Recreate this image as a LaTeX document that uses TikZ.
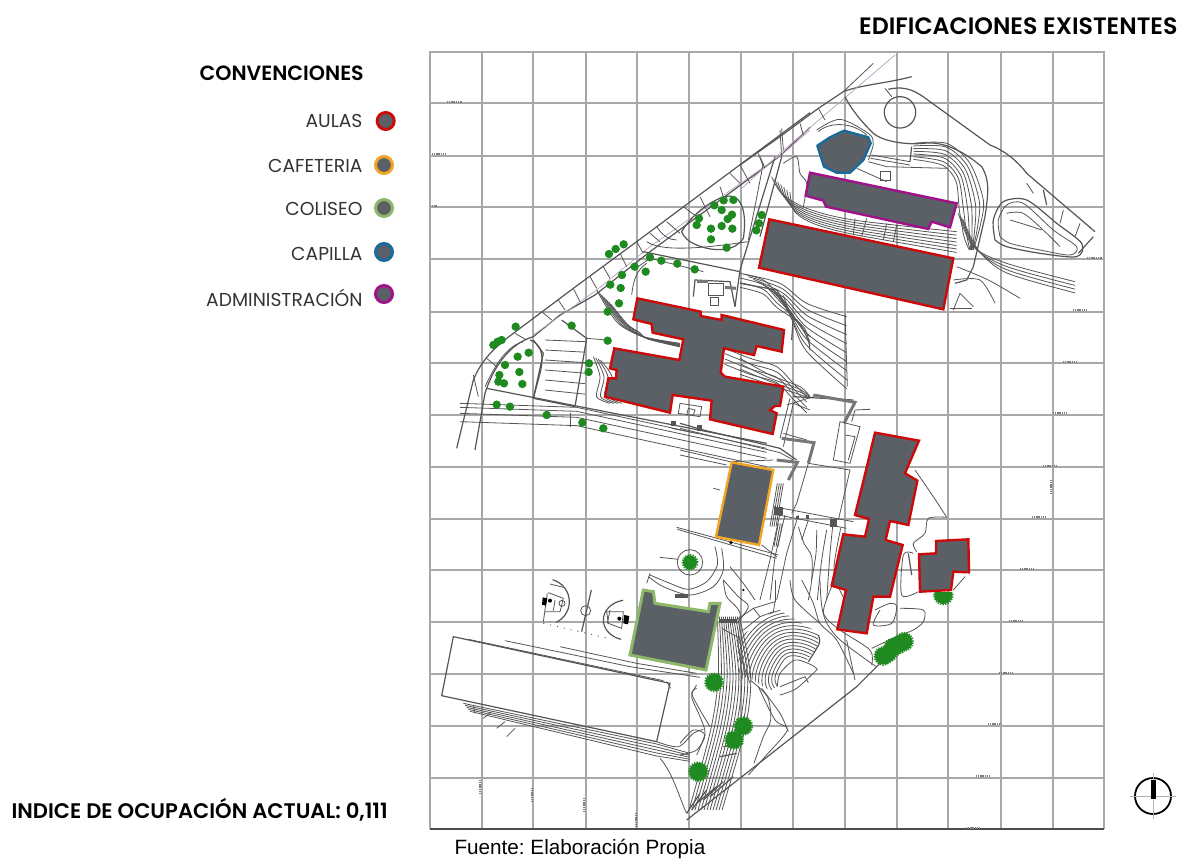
\documentclass[tikz,border=0pt]{standalone}
\usepackage{fontspec}
\setmainfont{Poppins}
\newfontfamily\pbold{Poppins SemiBold}
\newfontfamily\arialf{Liberation Sans}
\definecolor{bgray}{HTML}{5A6066}
\definecolor{gridc}{HTML}{A8A8A8}
\definecolor{linec}{HTML}{555555}
\definecolor{redb}{HTML}{CC0A0A}
\definecolor{orangeb}{HTML}{F2A524}
\definecolor{greenb}{HTML}{8DB86A}
\definecolor{blueb}{HTML}{1A6A9A}
\definecolor{purpb}{HTML}{A0128A}
\definecolor{treeg}{HTML}{1F8A1F}
\definecolor{mauve}{HTML}{B9A0C0}
\tikzset{
  za/.style={shift={(430,50)},x=0.33333pt,y=-0.33333pt},
  zb/.style={shift={(740,50)},x=0.33333pt,y=-0.33333pt},
  zc/.style={shift={(430,440)},x=0.33333pt,y=-0.33333pt},
  zd/.style={shift={(720,440)},x=0.33333pt,y=-0.33333pt},
  ze/.style={shift={(680,380)},x=0.33333pt,y=-0.33333pt},
  zf/.style={shift={(680,580)},x=0.33333pt,y=-0.33333pt},
  zg/.style={shift={(500,570)},x=0.33333pt,y=-0.33333pt},
  gridl/.style={draw=gridc,line width=1.5pt},
  ln/.style={draw=linec,line width=0.8pt},
  lnb/.style={draw=linec,line width=1.2pt},
  lnh/.style={draw=linec!80,line width=3pt},
  tiny/.style={draw=gray,line width=1.2pt,dash pattern=on 1.2pt off 0.6pt},
  bld/.style={fill=bgray,line width=2.4pt,line join=miter},
  legdot/.style={circle,fill=bgray,line width=3pt,minimum size=17pt,inner sep=0pt},
  legt/.style={anchor=east,font=\fontsize{18.7}{18.7}\selectfont,text=black!80},
}
\begin{document}
\frenchspacing
\begin{tikzpicture}[x=1pt,y=-1pt]
\useasboundingbox (0,0) rectangle (1196,862);
% grid
\foreach \gx in {482,533,586,637,689,741,793,845,897,948,1001,1053}
  \draw[gridl] (\gx,52)--(\gx,829);
\foreach \gy in {103,156,207,259,312,363,415,467,519,570,622,674,726,778}
  \draw[gridl] (430,\gy)--(1104,\gy);
\draw[draw=gridc,line width=1.6pt] (430,829)--(430,52)--(1104,52)--(1104,829);
\draw[draw=black!70,line width=1.4pt] (430,829)--(1104,829);
% tiny marks
\foreach \ax/\ay/\bx in {447/102/462,432/154/445,430/206/437,1087/258/1102,1073/310/1087,1063/362/1077,1053/413/1067,1043/466/1057,1032/517/1045,1020/569/1033,1009/621/1023,999/673/1012,988/724/1002,976/776/989,966/828/979}
  \draw[tiny] (\ax,\ay)--(\bx,\ay);
\foreach \ax/\ay/\by in {480/780/793,532/788/802,584/798/812,636/813/827,1051/480/493}
  \draw[tiny] (\ax,\ay)--(\ax,\by);
% ---------- upper left linework
\begin{scope}[za]
\draw[lnb] (1140,188)--(620,575)--(430,715)--(250,850)..controls(190,895)and(155,930)..(130,990)--(80,1195);
\draw[lnb] (1140,232)--(1050,318)--(660,605)--(495,735)--(390,795)--(310,860)..controls(240,880)and(190,950)..(165,1030)--(135,1200);
\draw[draw=mauve,line width=0.7pt] (1140,240)--(1060,310)--(660,590)--(500,720)--(310,855);
\foreach \ax/\ay/\bx/\by in {1050/240/1055/320,985/310/1000/350,930/345/960/400,870/410/880/440,810/440/840/500,710/515/750/550,620/575/640/610,520/650/540/685,430/715/450/755,335/785/365/810,255/850/290/870,170/925/200/950,130/975/145/1040,570/610/590/650,480/680/500/715,385/750/405/780,660/550/690/575,760/470/800/500,900/370/930/400}
  \draw[ln] (\ax,\ay)--(\bx,\by);
\draw[lnb] (755,545)..controls(780,500)and(850,440)..(900,438)..controls(940,440)and(950,500)..(940,565)..controls(920,600)and(860,610)..(800,585)..controls(775,575)and(760,560)..(755,545)--cycle;
\draw[lnb] (1035,320)--(930,660)--(915,770);
\draw[ln] (1000,340)--(955,570);
\draw[lnb] (640,605)--(930,665); \draw[ln] (610,660)--(660,625)--(820,665);
\draw[ln] (605,735)..controls(610,690)and(620,660)..(650,640);
\draw[ln] (650,575)..controls(700,610)and(850,590)..(955,575);
\draw[ln] (680,530)..controls(700,560)and(720,570)..(740,570);
% plaza
\draw[lnb] (790,740)--(795,690)--(900,695)--(915,770);
\draw[lnh] (800,695)--(835,695); \draw[lnh] (885,712)--(918,715);
\draw[ln] (840,765) rectangle (865,742); \draw[ln] (835,700)--(880,700)--(880,735)--(835,735)--cycle;
% contours left of X
\foreach \d in {0,12,24,36,48,60,72} {
  \draw[ln] plot[smooth] coordinates {({500+\d*0.6},{720+\d*0.6}) ({535+\d*0.8},{780+\d*0.6}) ({570+\d*0.8},{825+\d*0.3}) ({640+\d*.2},{860+\d*.1}) ({750},{880+\d*.15})};
}
\foreach \d in {0,12,24,36} {
  \draw[ln] plot[smooth] coordinates {({490+\d*.6},{920+\d*.3}) ({510+\d},{980}) ({500+\d},1040) ({540+\d},{1060})};
}
% hatched parcel
\draw[lnb] (395,810)--(470,865)--(435,1070)--(310,1045)--(340,910)--(310,870);
\foreach \d in {0,30,60,90,120,150} \draw[ln] (345,{870+\d})--(465,{875+\d*1.05});
\draw[lnb] (300,870)..controls(330,880)and(345,910)..(330,970)--(310,1045);
\draw[ln] (280,875)..controls(220,890)and(185,970)..(165,1010);
\draw[ln] (470,865)--(530,870);
% lower road
\foreach \d in {0,12,30,55} \draw[ln] (90,{1060+\d})--(440,{1072+\d})--(1010,{1195+\d});
\draw[lnb] (170,1015)--(1010,1180);
\draw[ln] (420,1090)--(420,1130);
% behind south of X
\draw[ln] (745,1090)--(750,1060)--(815,1070)--(810,1100)--cycle;
\draw[ln] (770,1095)--(775,1075)--(795,1080)--(790,1095)--cycle;
\fill[linec] (722,1112) rectangle (738,1128); \fill[linec] (800,1125) rectangle (815,1142);
\draw[ln] (725,1135)--(800,1150);
% right of X road
\foreach \d in {0,14,28,42} \draw[ln] plot[smooth] coordinates {(930,{670+\d}) (1000,{690+\d}) (1040,{730+\d}) ({1080+\d},{790+\d}) ({1140},{860+\d})};
\foreach \d in {0,16,32,48} \draw[ln] plot[smooth] coordinates {(885,{895+\d}) (960,{925+\d}) (1040,{950+\d}) (1090,{1000+\d}) (1130,{1040+\d})};
\draw[ln] (1060,1190)--(1090,1060)--(1140,1080);
\draw[ln] (1130,1170)--(1060,1150);
\end{scope}
% ---------- upper right linework
\begin{scope}[zb]
\draw[lnb] (0,345)--(120,260)--(235,175)--(310,125)..controls(360,105)and(440,100)..(515,80);
\draw[ln] (310,125)--(400,40);
\draw[draw=mauve,line width=0.7pt] (0,420)--(120,310)--(260,190)--(465,15);
\draw[lnb] (445,118)..controls(500,105)and(530,125)..(570,155)--(750,285)..controls(790,300)and(830,330)..(860,370)--(1065,545);
\draw[lnb] (315,140)..controls(340,190)and(380,230)..(400,250)..controls(430,275)and(500,285)..(550,280)..controls(620,270)and(690,320)..(725,350)..controls(750,390)and(745,430)..(735,500)--(700,650)--(680,690)--(645,700);
\draw[lnb] (125,320)--(60,560);
\draw[ln] (125,235)--(130,300); \draw[ln] (180,220)--(190,255); \draw[ln] (235,175)--(255,210); \draw[ln] (60,320)--(75,355);
\draw[lnb] (910,420)--(920,465);\draw[ln] (970,480)--(960,520);\draw[ln] (1020,520)--(1005,560); \draw[ln] (860,400)--(880,430);
\draw[lnb] (480,187) circle[radius=15.7pt];
\draw[ln] plot[smooth] coordinates {(230,240) (300,208) (385,250) (400,280) (385,330)};
\draw[ln] (235,245)..controls(260,220)and(330,210)..(380,255);
\draw[ln] (435,115)--(455,140);
\draw[ln] (420,365) rectangle (452,392);
\draw[ln] (395,315)--(510,335);\draw[ln] (392,325)--(510,345);\draw[ln] (385,335)--(440,350)--(620,355);
\draw[lnb] (510,335)--(515,290);
\draw[ln] (350,355)--(440,395);
% contour stack right of purple building
\foreach \d in {0,1,2,3,4,5,6} {
 \draw[ln] plot[smooth] coordinates {(520,{280+\d*8}) ({620-\d*2},{280+\d*11}) ({690-\d*7},{340+\d*9}) ({730-\d*12},{450+\d*5}) ({720-\d*8},{530+\d*5}) ({700-\d*2},600)};
}
\foreach \d in {0,16,32,48} \draw[ln] plot[smooth] coordinates {({655+\d*.3},{490+\d*.4}) ({700+\d*.3},{590+\d*.2}) ({800},{640+\d*.6}) ({1005},{695+\d*.7})};
\draw[ln] plot[smooth] coordinates {(650,650) (745,690) (840,745)};
\draw[ln] plot[smooth] coordinates {(640,690) (720,690) (765,760)};
\draw[ln] (660,730)--(700,770);
\draw[lnb] (630,775)--(695,775);\draw[ln] (660,730)--(640,780);
% right lobe
\draw[lnb] plot[smooth] coordinates {(765,570) (760,510) (790,455) (860,450) (950,520) (1025,580) (1010,620) (900,610) (800,590) (765,570)};
\draw[ln] plot[smooth] coordinates {(780,560) (775,510) (800,465) (850,460) (940,540) (1010,590) (990,615) (900,600) (810,580) (780,560)};
\draw[ln] plot[smooth] coordinates {(800,490) (850,490) (920,550) (960,590)};
\draw[ln] plot[smooth] coordinates {(810,510) (860,525) (905,540)};
\draw[lnb] (1060,560)--(1015,610);
% contours left of purple building
\foreach \d in {0,13,26,39,52,65,78} {
 \draw[ln] plot[smooth] coordinates {({95+\d*.7},{380+\d*.6}) ({125+\d*.5},{430+\d*.7}) ({200+\d*.3},{475+\d*.6}) ({340},{510+\d*.55}) ({650},{545+\d*.8})};
}
\draw[ln] (345,505)--(340,555);\draw[ln] (380,505)--(365,560);\draw[ln] (440,520)--(430,570);\draw[ln] (470,525)--(460,575);
\draw[ln] plot[smooth] coordinates {(130,340) (170,320) (180,370) (200,400) (190,470)};
% contours below big building
\foreach \d in {0,1,2,3,4,5,6,7,8} {
 \draw[ln] plot[smooth] coordinates {({10+\d*15},{672+\d*8}) ({120+\d*5},{700+\d*15}) ({200},{760+\d*18}) ({320},{800+\d*27})};
}
\draw[lnb] (0,700)--(110,720)--(160,800)--(155,870);
\draw[ln] (315,790)--(322,1010);
\foreach \d in {0,16,32,48} \draw[ln] plot[smooth] coordinates {(0,{925+\d}) (90,{975+\d*.6}) (180,{1010+\d*.5}) (210,{1040+\d*.1})};
\draw[lnb] (160,1040)--(340,1050);
\end{scope}
% ---------- middle
\begin{scope}[ze]
\draw[lnb] (0,130)--(70,150)--(300,205)--(350,240);
\draw[ln] (0,145)--(300,218)--(340,240);
\draw[ln] (0,210)--(150,245)--(280,240);
\draw[ln] (0,225)--(140,255);
\draw[lnh] (290,240)--(352,247)--(325,300);
\draw[lnh] (305,175)--(402,188)--(385,250);
\draw[lnh] (400,45)--(525,67)--(492,130);
\draw[ln] (330,55)--(300,175);
\draw[ln] (320,75)--(400,50);
\draw[ln] (385,250)--(510,270)--(475,420);
\draw[ln] (385,250)--(350,370)--(335,400);
\draw[ln] (480,125)--(540,140)--(510,250)--(460,240)--cycle;
\draw[ln] (495,165)--(525,170)--(505,240);
\draw[ln] (525,90)--(570,88);\draw[ln] (525,90)--(515,125);
\draw[ln] (280,380)--(520,425); \draw[ln] (280,402)--(500,445);
\fill[linec] (282,382) rectangle (308,405); \fill[linec] (450,418) rectangle (470,440);\fill[linec] (348,408) rectangle (358,416);\fill[linec] (378,404) rectangle (388,418);
\draw[ln] (300,400)--(270,540)--(240,660); \draw[ln] (315,405)--(285,530)--(270,660);
\draw[ln] (355,405)--(320,520)--(290,660);
\draw[ln] (385,420)--(365,480);
\foreach \d in {0,6,12,18} \draw[ln] ({292+\d},310)--({270+\d},440);
\foreach \d in {0,6,12} \draw[ln] ({295+\d},430)--({282+\d},500);
\draw[ln] plot[smooth] coordinates {(355,440) (372,490) (395,530) (395,600) (385,660)};
\draw[ln] plot[smooth] coordinates {(410,450) (408,520) (395,600)};
\draw[ln] plot[smooth] coordinates {(440,450) (425,540) (412,660)};
\draw[ln] plot[smooth] coordinates {(458,440) (450,520) (440,660)};
\draw[ln] plot[smooth] coordinates {(482,445) (462,560) (475,620) (495,660)};
\draw[ln] (245,495)--(290,530);
\end{scope}
\begin{scope}[zc]
% bottom-left pitch
\draw[lnb] (70,590)--(720,730)--(680,905)--(35,767)--cycle;
\draw[ln] (710,725)--(722,745);
\draw[ln] (115,598)--(700,722);
\draw[ln] (225,602)--(600,680)--(810,712);
\draw[ln] (390,620)--(620,670)--(800,700);
\foreach \d in {0,10,20,30,40} \draw[ln] ({100+\d*.5},{790+\d*.6})--(680,{912+\d*.9})--(780,{940+\d*.6});
\draw[ln] (130,795)--(135,820);\draw[ln] (160,835)--(185,815);\draw[ln] (200,865)--(225,845);\draw[ln] (230,890)--(255,865);
\draw[ln] (690,955)..controls(730,1000)and(750,1080)..(770,1120);
\draw[ln] plot[smooth] coordinates {(680,905) (745,920) (790,880) (820,868)};
\draw[ln] plot[smooth] coordinates {(800,735) (785,770) (810,830) (825,880) (800,945)};
% cafeteria lines and circle
\draw[ln] (740,262)--(1045,345); \draw[ln] (742,268)--(1040,355);
\fill[black] (903,308) circle[radius=1.8pt];
\draw[ln] (850,145)--(870,150);
\draw[ln] (780,367) circle[radius=12.7pt];
\draw[ln] (690,352)--(745,358);
\draw[ln] plot[smooth] coordinates {(855,320) (862,375) (830,425) (775,448) (720,430) (660,405)};
\draw[ln] plot[smooth] coordinates {(875,325) (880,390) (850,440) (780,465) (700,440) (655,410)};
\draw[ln] (650,430)--(660,400);
\draw[ln] plot[smooth] coordinates {(880,420) (890,470) (930,520) (925,620) (960,730)};
\draw[ln] plot[smooth] coordinates {(900,380) (940,430) (975,480)};
\fill[linec] (735,462) rectangle (775,475);
\fill[black] (940,450) circle[radius=1.2pt];
\end{scope}
\begin{scope}[zf]
\begin{scope}
\clip (180,300)--(170,180)--(290,85)--(415,160)--(415,200)--(380,240)--(300,290)--(295,345)--(200,290)--cycle;
\foreach \r in {58,68,78,88,98,108,118,128,138,148,158,168,178,188,198,208}
  \draw[ln] plot[smooth,domain=25:215,samples=16] ({345+\r*cos(\x)+6*sin(3*\x)},{285-\r*sin(\x)});
\end{scope}
\draw[lnb] plot[smooth] coordinates {(415,165) (418,190) (385,245)};
\draw[ln] plot[smooth] coordinates {(292,320) (300,280) (345,240) (395,255) (412,268)};
\draw[ln] plot[smooth] coordinates {(300,345) (350,325) (412,268)};
\draw[ln] (300,320)--(375,290)--(385,308);
\draw[ln] (220,85)--(285,65)--(280,95)--(240,110)--cycle; \draw[ln] (285,65)--(285,0);
\draw[ln] (220,85)--(155,130);\draw[ln] (240,110)--(190,150);
\fill[linec] (118,118) rectangle (170,130);
\draw[ln] (125,145)--(180,175);
% vertical fan
\foreach \i in {0,...,11}
  \draw[ln] plot[smooth] coordinates {({112+6*\i},110) ({115+8.8*\i},290) ({92+9.3*\i},450) ({27+9*\i},690)};
\draw[ln] plot[smooth] coordinates {(210,300) (262,350) (272,420) (250,470) (222,550)};
\draw[ln] plot[smooth] coordinates {(235,320) (285,420) (322,450) (255,530) (205,585)};
\draw[ln] plot[smooth] coordinates {(245,325) (300,400) (325,455)};
\draw[ln] plot[smooth] coordinates {(50,325) (35,340) (60,390) (90,440)};
\draw[ln] plot[smooth] coordinates {(0,490) (40,450) (75,465) (50,510) (0,525)};
\foreach \ax/\ay/\bx/\by in {20/700/60/640,35/690/80/630,50/670/110/620,70/660/130/605,90/650/160/590,120/530/170/520,130/500/190/490}
  \draw[lnb] (\ax,\ay)--(\bx,\by);
\draw[lnb] (20,720)--(530,320)--(600,250);
\draw[ln] plot[smooth] coordinates {(130,0) (175,50) (205,80) (170,130)};
\draw[ln] plot[smooth] coordinates {(330,0) (345,60) (420,130)};
\draw[ln] plot[smooth] coordinates {(365,0) (400,70) (420,130) (470,180) (520,280)};
\draw[ln] plot[smooth] coordinates {(420,0) (430,100) (480,150) (570,210) (575,255)};
\draw[ln] (500,180)--(525,300);
\end{scope}
\begin{scope}[zd]
\draw[ln] plot[smooth] coordinates {(585,90) (640,170) (680,232)};
\draw[ln] plot[smooth] coordinates {(680,232) (625,235) (615,280) (580,310) (590,335)};
\draw[ln] plot[smooth] coordinates {(580,340) (550,345) (545,465) (595,455)};
\draw[ln,line width=1.2pt] (565,340)--(575,405);
\draw[ln] (735,410)--(700,450);
\draw[ln] plot[smooth] coordinates {(465,510) (510,490) (530,500) (515,550) (460,555) (480,510)};
\draw[ln] plot[smooth] coordinates {(540,505) (610,510) (610,545) (580,570) (540,585)};
\draw[ln] plot[smooth] coordinates {(540,585) (455,625)};
\draw[ln] plot[smooth] coordinates {(335,440) (310,520) (350,590) (440,660) (470,680)};
\end{scope}
% ---------- buildings
\begin{scope}[za]
\draw[bld,draw=redb] (622,745)--(812,785)--(812,798)--(875,810)--(875,795)--(1062,840)--(1055,905)--(980,888)--(972,915)--(882,895)--(872,968)--(885,980)--(1060,1010)--(1050,1068)--(1035,1068)--(1020,1080)--(1040,1090)--(1028,1152)--(840,1108)--(845,1052)--(728,1035)--(720,1088)--(525,1040)--(535,985)--(558,985)--(560,960)--(540,955)--(553,895)--(748,930)--(760,868)--(668,848)--(665,822)--(610,808)--cycle;
\end{scope}
\begin{scope}[zb]
\draw[bld,draw=redb] (88,508)--(640,625)--(610,778)--(57,653)--cycle;
\draw[bld,draw=purpb] (210,368)--(650,460)--(630,532)--(575,515)--(565,537)--(258,470)--(250,452)--(197,437)--cycle;
\draw[bld,draw=blueb,line join=round] (232,287)--(270,262)--(312,242)--(385,262)--(392,280)--(370,330)--(330,368)--(290,368)--(252,350)--cycle;
\end{scope}
\begin{scope}[zc]
\draw[bld,draw=orangeb] (905,67)--(1030,90)--(987,315)--(858,290)--cycle;
\draw[bld,draw=greenb,line width=3pt] (640,450)--(670,455)--(675,490)--(835,515)--(840,490)--(870,490)--(828,690)--(600,645)--cycle;
\end{scope}
\begin{scope}[zd]
\draw[bld,draw=redb] (465,-22)--(597,2)--(555,100)--(592,122)--(565,255)--(510,243)--(497,300)--(548,315)--(510,470)--(460,470)--(440,580)--(352,568)--(378,450)--(335,437)--(370,283)--(435,290)--(447,237)--(405,225)--(437,95)--cycle;
\draw[bld,draw=redb] (597,343)--(648,340)--(648,303)--(745,298)--(747,397)--(700,395)--(693,450)--(600,455)--cycle;
\end{scope}
% ---------- trees
\begin{scope}[za]
\foreach \tx/\ty in {257/830,190/885,203/875,215/870,296/908,263/920,225/945,268/966,208/975,205/995,222/1000,277/1002,200/1064,240/1070,350/1095,457/1118,520/1135,425/827,533/872,477/940,476/966,533/785,567/760,572/714,541/704,576/675,614/650,647/665,660/622,694/632,742/641,794/658,537/612,557/597,581/583,890/593,843/568,843/536,875/528,907/536,893/507,906/494,875/480,853/466,881/451,910/450,807/505,800/525,995/495,987/520,979/541}
  \fill[treeg] (\tx,\ty) circle[radius=4.2pt];
\end{scope}
\begin{scope}[zc]
\foreach \tx/\ty/\tr in {780/367/7,852/727/8.5,940/858/8.5,912/900/8.5,805/995/9}
  {\fill[treeg] (\tx,\ty) circle[radius=\tr pt];
   \draw[treeg,line width=1.4pt,dash pattern=on 1.4pt off 1.2pt] (\tx,\ty) circle[radius=\tr pt+0.6pt];}
\end{scope}
\begin{scope}[zd]
\foreach \tx/\ty/\tr in {490/648/8.5,505/640/8,520/622/8.5,535/615/8,552/605/8.5}
  {\fill[treeg] (\tx,\ty) circle[radius=\tr pt];
   \draw[treeg,line width=1.4pt,dash pattern=on 1.4pt off 1.2pt] (\tx,\ty) circle[radius=\tr pt+0.6pt];}
\begin{scope}
\clip (600,458) rectangle (720,520);
\fill[treeg] (670,465) circle[radius=9pt];
\draw[treeg,line width=1.4pt,dash pattern=on 1.4pt off 1.2pt] (670,465) circle[radius=9.6pt];
\end{scope}
\end{scope}
% ---------- basketball
\begin{scope}[zg]
\draw[lnb] plot[smooth,domain=-65:75,samples=16] ({140+68*cos(\x)},{95-68*sin(\x)});
\draw[ln] (150,42)--(190,52);
\draw[ln] (145,68)--(190,85)--(180,125)--(135,125);
\draw[ln] (130,155)--(142,70);
\draw[ln] (165,90)--(160,122);
\draw[ln] (186,100) circle[radius=3pt];
\fill[black] (128,82)--(142,85)--(138,107)--(126,104)--cycle; \fill[black] (150,92) circle[radius=2pt];
\draw[ln] (257,122) circle[radius=5pt];
\draw[lnb] (274,60)--(245,185);
\draw[lnb] plot[smooth,domain=100:255,samples=16] ({382+72*cos(\x)},{150-60*sin(\x)});
\draw[ln] (320,125)--(370,125)--(365,175)--(325,160)--cycle;
\draw[ln] (330,120)--(322,160);
\fill[black] (372,135)--(388,138)--(384,163)--(370,160)--cycle; \fill[black] (358,146) circle[radius=2pt];
\draw[linec,line width=0.9pt,dash pattern=on 1pt off 6pt] (130,160)--(325,205);
\end{scope}
% ---------- legend and texts
\node[anchor=west,font=\pbold\fontsize{20.6}{20.6}\selectfont] (legtitle) at (196,73) {CONVENCIONES};
\node[legt] (t1) at (366,121) {AULAS};
\node[legt] (t2) at (366,165.5) {CAFETERIA};
\node[legt] (t3) at (366,209) {COLISEO};
\node[legt] (t4) at (366,253.5) {CAPILLA};
\node[legt] (t5) at (366,298) {ADMINISTRACIÓN};
\node[legdot,draw=redb] (d1) at (385.7,121) {};
\node[legdot,draw=orangeb] (d2) at (384,165) {};
\node[legdot,draw=greenb] (d3) at (384,208) {};
\node[legdot,draw=blueb] (d4) at (384,252) {};
\node[legdot,draw=purpb] (d5) at (384,294) {};
\node[anchor=east,font=\pbold\fontsize{23.7}{23.7}\selectfont] (title) at (1181,26) {EDIFICACIONES EXISTENTES};
\node[anchor=west,font=\pbold\fontsize{21.1}{21.1}\selectfont] (indice) at (8,810) {INDICE DE OCUPACIÓN ACTUAL: 0,111};
\node[anchor=west,font=\arialf\fontsize{20.7}{20.7}\selectfont] (fuente) at (451,849) {Fuente: Elaboración Propia};
% north
\draw[black,line width=1.8pt] (1153,796) circle[radius=18pt];
\draw[gray!60,line width=0.6pt] (1130,796)--(1176,796);
\draw[gray!60,line width=0.6pt] (1153,773)--(1153,819);
\fill[black] (1150.5,780) rectangle (1156,799);
\end{tikzpicture}
\end{document}
